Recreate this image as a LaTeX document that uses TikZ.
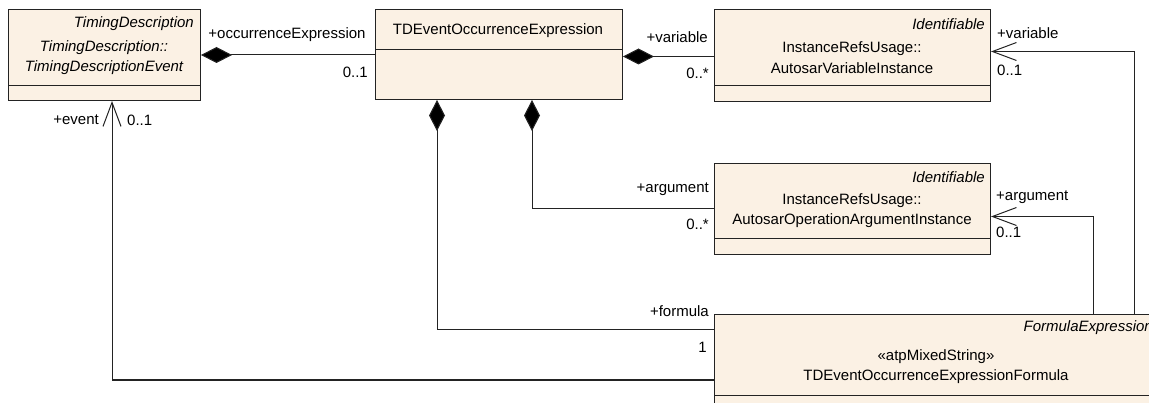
\documentclass[tikz,border=0pt]{standalone}
\usepackage{fontspec}
\setmainfont{Liberation Sans}
\usetikzlibrary{arrows.meta}
\definecolor{boxfill}{RGB}{251,241,228}
\definecolor{edgec}{RGB}{35,35,35}
\begin{document}
\begin{tikzpicture}[x=1pt,y=-1pt,
  umlbox/.style={draw=edgec,line width=1pt,fill=boxfill,rectangle,inner sep=0pt,anchor=north west},
  txt/.style={font=\fontsize{15}{18}\selectfont,inner sep=0pt,text=black},
  itxt/.style={txt,font=\fontsize{15}{18}\selectfont\itshape},
  sep/.style={draw=edgec,line width=1pt},
  conn/.style={draw=edgec,line width=1pt},
  comp/.style={conn,{Diamond[length=31pt,width=16pt,fill=black]}-},
  nav/.style={conn,-{Straight Barb[length=24pt,width=18pt,line width=1pt]}},
]
\path[use as bounding box,clip] (0,0) rectangle (1149,403);

% boxes
\node[umlbox,minimum width=192pt,minimum height=91pt] (b1) at (8,9) {};
\draw[sep] (8,86) -- (200,86);
\node[umlbox,minimum width=247pt,minimum height=90pt] (b2) at (375,9) {};
\draw[sep] (375,50) -- (622,50);
\node[umlbox,minimum width=276pt,minimum height=92pt] (b3) at (714,9) {};
\draw[sep] (714,86) -- (990,86);
\node[umlbox,minimum width=276pt,minimum height=91pt] (b4) at (714,163) {};
\draw[sep] (714,239) -- (990,239);
\node[umlbox,minimum width=444pt,minimum height=110pt] (b5) at (714,314) {};
\draw[sep] (714,395) -- (1158,395);

% box texts
\node[itxt,anchor=east] (t1a) at (194,24) {TimingDescription};
\node[itxt] (t1b) at (104,48) {TimingDescription::};
\node[itxt] (t1c) at (104,68) {TimingDescriptionEvent};
\node[txt] (t2) at (498,31) {TDEventOccurrenceExpression};
\node[itxt,anchor=east] (t3a) at (985,24) {Identifiable};
\node[txt] (t3b) at (852,49) {InstanceRefsUsage::};
\node[txt] (t3c) at (852,68) {AutosarVariableInstance};
\node[itxt,anchor=east] (t4a) at (985,177) {Identifiable};
\node[txt] (t4b) at (852,201) {InstanceRefsUsage::};
\node[txt] (t4c) at (852,221) {AutosarOperationArgumentInstance};
\node[itxt,anchor=east] (t5a) at (1153,328) {FormulaExpression};
\node[txt] (t5b) at (936,357) {«atpMixedString»};
\node[txt] (t5c) at (936,377) {TDEventOccurrenceExpressionFormula};

% connectors
\draw[comp] (b1.east) -- (b2.west |- b1.east);
\draw[comp] ([yshift=-2pt]b2.east) -- ([yshift=-2pt]b3.west |- b2.east);
\draw[comp] ([xshift=157pt]b2.south west) |- (b4.west);
\draw[comp] ([xshift=62pt]b2.south west) |- ([yshift=-16pt]b5.north west);
\draw[nav] ([yshift=-66pt]b5.north west) -| ([xshift=104pt]b1.south west);
\draw[nav] ([xshift=420pt]b5.north west) |- ([yshift=4pt]b3.east);
\draw[nav] ([xshift=379pt]b5.north west) |- ([yshift=-7.5pt]b4.east);

% labels
\node[txt] (l1) at (287,35) {+occurrenceExpression};
\node[txt,anchor=east] (l2) at (368,72) {0..1};
\node[txt,anchor=east] (l3) at (708,37) {+variable};
\node[txt,anchor=east] (l4) at (709,73) {0..*};
\node[txt,anchor=east] (l5) at (709,189) {+argument};
\node[txt,anchor=east] (l6) at (709,224) {0..*};
\node[txt,anchor=east] (l7) at (709,311) {+formula};
\node[txt,anchor=east] (l8) at (707,347) {1};
\node[txt,anchor=east] (l9) at (99,120) {+event};
\node[txt,anchor=west] (l10) at (127,120) {0..1};
\node[txt,anchor=west] (l11) at (997,33) {+variable};
\node[txt,anchor=west] (l12) at (997,70) {0..1};
\node[txt,anchor=west] (l13) at (996,197) {+argument};
\node[txt,anchor=west] (l14) at (996,232) {0..1};
\end{tikzpicture}
\end{document}
